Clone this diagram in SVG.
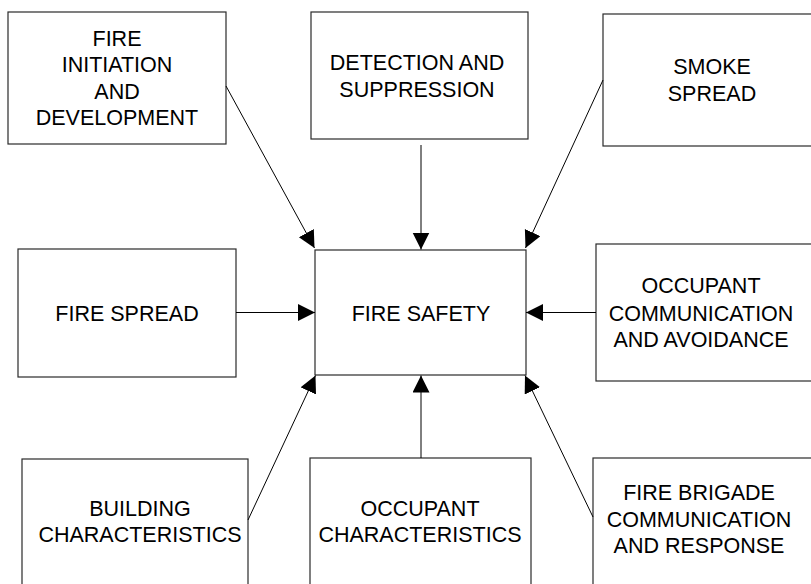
<svg xmlns="http://www.w3.org/2000/svg" width="811" height="584" viewBox="0 0 811 584">
<style>
.box{fill:#fff;stroke:#2a2a2a;stroke-width:1.2}
.t{font-family:"Liberation Sans",Arial,sans-serif;font-size:21.5px;fill:#000;text-anchor:middle}
.c{stroke:#000;stroke-width:1;fill:none;marker-end:url(#ah)}
</style>
<defs>
<marker id="ah" markerUnits="userSpaceOnUse" markerWidth="18" markerHeight="18" refX="17" refY="8.5" orient="auto" viewBox="0 0 18 18">
<path d="M0,0 L17,8.5 L0,17 z" fill="#000"/>
</marker>
</defs>
<rect width="811" height="584" fill="#fff"/>
<g id="n-initiation"><rect class="box" x="8" y="12" width="218" height="132"/>
<text class="t" x="117" y="46">FIRE</text><text class="t" x="117" y="72">INITIATION</text><text class="t" x="117" y="99">AND</text><text class="t" x="117" y="125">DEVELOPMENT</text></g>
<g id="n-detection"><rect class="box" x="311" y="12" width="217" height="127"/>
<text class="t" x="417" y="70">DETECTION AND</text><text class="t" x="417" y="97">SUPPRESSION</text></g>
<g id="n-smoke"><rect class="box" x="603" y="14" width="212" height="132"/>
<text class="t" x="712" y="74">SMOKE</text><text class="t" x="712" y="101">SPREAD</text></g>
<g id="n-firespread"><rect class="box" x="18" y="249" width="218" height="128"/>
<text class="t" x="127" y="321">FIRE SPREAD</text></g>
<g id="n-safety"><rect class="box" x="315" y="250" width="211" height="125"/>
<text class="t" x="421" y="321">FIRE SAFETY</text></g>
<g id="n-occcomm"><rect class="box" x="596" y="244" width="219" height="137"/>
<text class="t" x="701" y="293">OCCUPANT</text><text class="t" x="701" y="321">COMMUNICATION</text><text class="t" x="701" y="347">AND AVOIDANCE</text></g>
<g id="n-building"><rect class="box" x="22" y="459" width="226" height="135"/>
<text class="t" x="140" y="516">BUILDING</text><text class="t" x="140" y="542">CHARACTERISTICS</text></g>
<g id="n-occchar"><rect class="box" x="310" y="458" width="221" height="136"/>
<text class="t" x="420" y="516">OCCUPANT</text><text class="t" x="420" y="542">CHARACTERISTICS</text></g>
<g id="n-brigade"><rect class="box" x="593" y="458" width="222" height="136"/>
<text class="t" x="699" y="500">FIRE BRIGADE</text><text class="t" x="699" y="527">COMMUNICATION</text><text class="t" x="699" y="553">AND RESPONSE</text></g>
<g id="connectors">
<line class="c" x1="226" y1="86" x2="314.5" y2="248"/>
<line class="c" x1="421" y1="145" x2="421" y2="249.5"/>
<line class="c" x1="603" y1="80" x2="525.5" y2="248"/>
<line class="c" x1="236" y1="312.5" x2="315" y2="312.5"/>
<line class="c" x1="596" y1="312.5" x2="526" y2="312.5"/>
<line class="c" x1="248" y1="520" x2="315.5" y2="375.5"/>
<line class="c" x1="421" y1="458" x2="421" y2="375.5"/>
<line class="c" x1="593" y1="517" x2="525" y2="375.5"/>
</g>
</svg>
